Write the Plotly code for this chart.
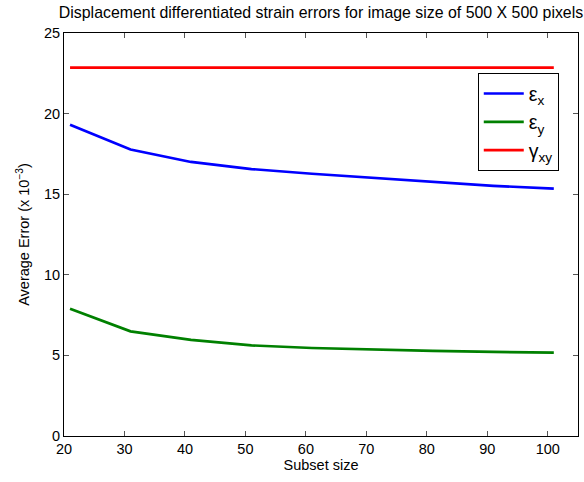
import plotly.graph_objects as go

subset_size = [21, 31, 41, 51, 61, 71, 81, 91, 101]
eps_x = [19.31, 17.77, 17.0, 16.56, 16.27, 16.02, 15.75, 15.52, 15.34]
eps_y = [7.89, 6.49, 5.96, 5.62, 5.46, 5.36, 5.28, 5.22, 5.17]
gamma_xy = [22.85] * 9

names = ["ε<sub>x</sub>", "ε<sub>y</sub>", "γ<sub>xy</sub>"]
colors = ["#0000FF", "#008000", "#FF0000"]
series = [eps_x, eps_y, gamma_xy]

fig = go.Figure()
for n, c, s in zip(names, colors, series):
    fig.add_trace(go.Scatter(x=subset_size, y=s, mode="lines", name=n,
                             line=dict(color=c, width=2.7)))

font = dict(family="Liberation Sans, Arial, sans-serif", size=14.5, color="black")
fig.update_layout(
    width=584, height=482,
    margin=dict(l=64, r=6, t=33, b=46),
    paper_bgcolor="white", plot_bgcolor="white",
    font=font,
    title=dict(text="Displacement differentiated strain errors for image size of 500 X 500 pixels",
               x=0.5, xref="paper", y=0.974, yanchor="middle", font=dict(size=15.9)),
    xaxis=dict(range=[20, 105], tickvals=[20, 30, 40, 50, 60, 70, 80, 90, 100],
               ticks="inside", ticklen=5, tickcolor="#555", showline=True, linecolor="black",
               linewidth=1, mirror="ticks", showgrid=False, zeroline=False,
               tickfont=dict(size=14.5),
               title=dict(text="Subset size", standoff=3, font=dict(size=14.5))),
    yaxis=dict(range=[0, 25], tickvals=[0, 5, 10, 15, 20, 25],
               ticks="inside", ticklen=5, tickcolor="#555", showline=True, linecolor="black",
               linewidth=1, mirror="ticks", showgrid=False, zeroline=False,
               tickfont=dict(size=14.5),
               title=dict(text="Average Error (x 10<sup>−3</sup>)", standoff=10, font=dict(size=14.5))),
    legend=dict(x=0.805, y=0.9, xanchor="left", yanchor="top",
                bgcolor="white", bordercolor="black", borderwidth=1,
                font=dict(size=19.5), itemwidth=40, tracegroupgap=0),
    showlegend=True,
)
fig.write_html("out.html")
